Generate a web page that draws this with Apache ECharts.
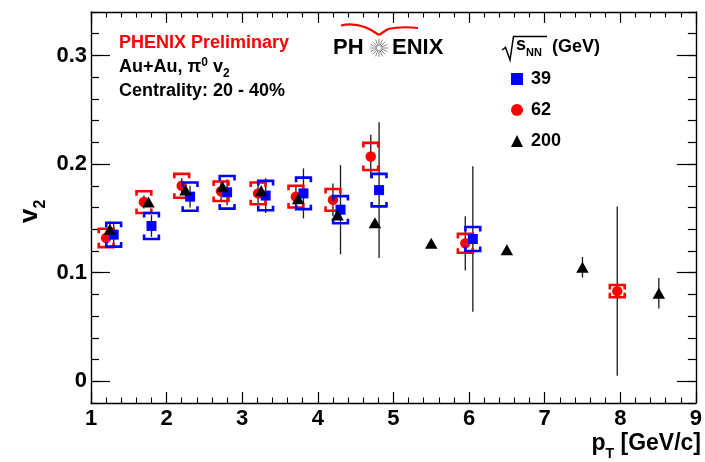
<!DOCTYPE html>
<html>
<head>
<meta charset="utf-8">
<script src="https://cdn.jsdelivr.net/npm/echarts@6/dist/echarts.min.js"></script>
<style>
html,body{margin:0;padding:0;background:#fff;}
#c{width:705px;height:462px;}
</style>
</head>
<body>
<div id="c"></div>
<script>
// pi0 v2 vs pT in Au+Au, 20-40% centrality, three beam energies
// 39 GeV
const pt39   = [1.30, 1.80, 2.31, 2.80, 3.31, 3.81, 4.30, 4.81, 6.05];
const v2_39  = [0.135, 0.143, 0.170, 0.174, 0.171, 0.173, 0.158, 0.176, 0.131];
const stat39 = [0.010, 0.010, 0.010, 0.012, 0.016, 0.023, 0.041, 0.0625, 0.067];
const sys39  = [0.011, 0.012, 0.013, 0.015, 0.0135, 0.0145, 0.0125, 0.015, 0.011];
// 62 GeV
const pt62   = [1.20, 1.70, 2.20, 2.72, 3.21, 3.71, 4.20, 4.70, 5.95, 7.96];
const v2_62  = [0.132, 0.165, 0.180, 0.175, 0.173, 0.170, 0.167, 0.207, 0.127, 0.083];
const stat62 = [0.006, 0.006, 0.007, 0.008, 0.009, 0.011, 0.015, 0.020, 0.025, 0.078];
const sys62  = [0.0085, 0.010, 0.011, 0.009, 0.010, 0.010, 0.010, 0.0125, 0.0087, 0.0056];
// 200 GeV
const pt200   = [1.25, 1.76, 2.25, 2.74, 3.25, 3.74, 4.26, 4.755, 5.50, 6.50, 7.50, 8.51];
const v2_200  = [0.140, 0.165, 0.176, 0.179, 0.1755, 0.168, 0.153, 0.146, 0.127, 0.121, 0.105, 0.081];
const stat200 = [0.007, 0.003, 0.003, 0.003, 0.003, 0.003, 0.003, 0.003, 0.003, 0.003, 0.0095, 0.014];

const yMajor = [0, 0.1, 0.2, 0.3];

const RED = '#ff0000', BLUE = '#0000ff', BLACK = '#000000';
const FONT = '"Liberation Sans", Arial, Helvetica, sans-serif';

const mctx = document.createElement('canvas').getContext('2d');
function tw(t, size) { mctx.font = 'bold ' + size + 'px ' + FONT; return mctx.measureText(t).width; }

// lay out a line of text runs (for sub/superscripts) starting at a baseline
function textLine(x, base, parts, color, align) {
  const total = parts.reduce((s, p) => s + tw(p.t, p.size), 0);
  let cx = align === 'right' ? x - total : x;
  return parts.map(p => {
    const el = {
      type: 'text', x: cx, y: base + (p.dy || 0) - 0.35 * p.size, silent: true,
      style: { text: p.t, fontSize: p.size, fontWeight: 'bold', fontFamily: FONT,
               fill: p.color || color, align: 'left', verticalAlign: 'middle' }
    };
    cx += tw(p.t, p.size);
    return el;
  });
}

const band = (pt, v, e) => pt.map((x, i) => [x, v[i] - e[i], v[i] + e[i]]);
const pts = (pt, v) => pt.map((x, i) => [x, v[i]]);

function statItem(params, api) {
  const a = api.coord([api.value(0), api.value(1)]);
  const b = api.coord([api.value(0), api.value(2)]);
  return { type: 'line', shape: { x1: a[0], y1: a[1], x2: b[0], y2: b[1] },
           style: { stroke: '#1a1a1a', lineWidth: 1.3 } };
}
function bracketItem(color) {
  return function (params, api) {
    const lo = api.coord([api.value(0), api.value(1)]);
    const hi = api.coord([api.value(0), api.value(2)]);
    const cx = lo[0], hw = 7.4, tk = 4.5;
    const st = { stroke: color, lineWidth: 2.6, fill: 'none', lineJoin: 'miter' };
    return { type: 'group', children: [
      { type: 'polyline', shape: { points: [[cx - hw, hi[1] + tk], [cx - hw, hi[1]], [cx + hw, hi[1]], [cx + hw, hi[1] + tk]] }, style: st },
      { type: 'polyline', shape: { points: [[cx - hw, lo[1] - tk], [cx - hw, lo[1]], [cx + hw, lo[1]], [cx + hw, lo[1] - tk]] }, style: st }
    ] };
  };
}

const xRange = { min: 1, max: 9, interval: 1 };
const yRange = { min: -0.02, max: 0.34 };
const frameLine = { show: true, onZero: false, lineStyle: { color: '#000', width: 1.4 } };
const noLine = { show: false, onZero: false };

// PHENIX logo: swoosh + starburst
const star = [];
for (let k = 0; k < 16; k++) {
  const a = k * Math.PI / 8;
  star.push({ type: 'line', silent: true,
    shape: { x1: 379 + 2 * Math.cos(a), y1: 48 + 2 * Math.sin(a), x2: 379 + 9 * Math.cos(a), y2: 48 + 9 * Math.sin(a) },
    style: { stroke: '#8a8a8a', lineWidth: 1 } });
}
const swoosh = [
  { type: 'bezierCurve', silent: true,
    shape: { x1: 341, y1: 25.5, cpx1: 360, cpy1: 21, x2: 379, y2: 35 },
    style: { stroke: RED, lineWidth: 2.2, fill: 'none' } },
  { type: 'line', silent: true,
    shape: { x1: 379, y1: 35, x2: 388, y2: 29 },
    style: { stroke: RED, lineWidth: 2.2 } },
  { type: 'bezierCurve', silent: true,
    shape: { x1: 388, y1: 29, cpx1: 401, cpy1: 26, x2: 418, y2: 28 },
    style: { stroke: RED, lineWidth: 2.0, fill: 'none' } }
];

const graphics = [].concat(
  textLine(119, 49.5, [{ t: 'PHENIX Preliminary', size: 18 }], RED),
  textLine(119, 73.5, [{ t: 'Au+Au, \u03c0', size: 18 }, { t: '0', size: 12, dy: -7 }, { t: ' v', size: 18 }, { t: '2', size: 12, dy: 4 }], BLACK),
  textLine(119, 97.5, [{ t: 'Centrality: 20 - 40%', size: 18 }], BLACK),
  textLine(333, 56, [{ t: 'PH', size: 22 }], BLACK),
  textLine(392, 56, [{ t: 'ENIX', size: 22 }], BLACK),
  star,
  swoosh,
  // sqrt(s_NN) legend header
  [{ type: 'polyline', silent: true,
     shape: { points: [[502, 50], [505.5, 47.5], [510, 60], [513.5, 36.5], [547, 36.5]] },
     style: { stroke: BLACK, lineWidth: 1.5, fill: 'none' } }],
  textLine(516, 51, [{ t: 's', size: 18 }, { t: 'NN', size: 11, dy: 6 }], BLACK),
  textLine(552, 53, [{ t: '(GeV)', size: 18 }], BLACK),
  // x axis title
  textLine(701, 452, [{ t: 'p', size: 23 }, { t: 'T', size: 14, dy: 7 }, { t: ' [GeV/c]', size: 23 }], BLACK, 'right'),
  // y axis title, rotated
  [{ type: 'group', x: 39, y: 223, rotation: Math.PI / 2, silent: true,
     children: textLine(0, 0, [{ t: 'v', size: 26 }, { t: '2', size: 16, dy: 7 }], BLACK) }]
);

const chart = echarts.init(document.getElementById('c'), null, { renderer: 'canvas' });
chart.setOption({
  animation: false,
  backgroundColor: '#fff',
  grid: { left: 91, right: 4, top: 12, bottom: 59, containLabel: false },
  xAxis: [
    Object.assign({ type: 'value', position: 'bottom',
      axisLine: frameLine,
      axisTick: { show: true, inside: true, length: 11, lineStyle: { color: '#000', width: 1.2 } },
      minorTick: { show: true, splitNumber: 5, length: 5.5, lineStyle: { color: '#000', width: 1.1 } },
      axisLabel: { show: true, margin: 5, color: '#000', fontSize: 22, fontWeight: 'bold', fontFamily: FONT,
                   formatter: v => String(Math.round(v)) },
      splitLine: { show: false } }, xRange),
    Object.assign({ type: 'value', position: 'top',
      axisLine: frameLine,
      axisTick: { show: true, inside: true, length: 11, lineStyle: { color: '#000', width: 1.2 } },
      minorTick: { show: true, splitNumber: 5, length: 5.5, lineStyle: { color: '#000', width: 1.1 } },
      axisLabel: { show: false }, splitLine: { show: false } }, xRange)
  ],
  yAxis: [
    Object.assign({ type: 'value', position: 'left', interval: 0.02,
      axisLine: frameLine,
      axisTick: { show: true, inside: true, length: 8, lineStyle: { color: '#000', width: 1.2 } },
      axisLabel: { show: true, margin: 4, color: '#000', fontSize: 22, fontWeight: 'bold', fontFamily: FONT,
                   customValues: yMajor, formatter: v => (Math.abs(v) < 1e-9 ? '0' : v.toFixed(1)) },
      splitLine: { show: false } }, yRange),
    Object.assign({ type: 'value', position: 'left',
      axisLine: noLine,
      axisTick: { show: true, inside: true, length: 19, customValues: yMajor, lineStyle: { color: '#000', width: 1.2 } },
      axisLabel: { show: false }, splitLine: { show: false } }, yRange),
    Object.assign({ type: 'value', position: 'right', interval: 0.02,
      axisLine: frameLine,
      axisTick: { show: true, inside: true, length: 8, lineStyle: { color: '#000', width: 1.2 } },
      axisLabel: { show: false }, splitLine: { show: false } }, yRange),
    Object.assign({ type: 'value', position: 'right',
      axisLine: noLine,
      axisTick: { show: true, inside: true, length: 19, customValues: yMajor, lineStyle: { color: '#000', width: 1.2 } },
      axisLabel: { show: false }, splitLine: { show: false } }, yRange)
  ],
  legend: {
    orient: 'vertical', left: 511, top: 69, padding: 0, itemWidth: 12, itemHeight: 12, itemGap: 11,
    selectedMode: false,
    textStyle: { color: '#000', fontSize: 18, fontWeight: 'bold', fontFamily: FONT, lineHeight: 20, padding: [0, 0, 0, 3] },
    data: [{ name: '39', icon: 'rect' }, { name: '62', icon: 'circle' }, { name: '200', icon: 'triangle' }]
  },
  graphic: graphics,
  series: [
    { type: 'custom', name: 'stat39', renderItem: statItem, data: band(pt39, v2_39, stat39), silent: true, z: 2 },
    { type: 'custom', name: 'stat62', renderItem: statItem, data: band(pt62, v2_62, stat62), silent: true, z: 2 },
    { type: 'custom', name: 'stat200', renderItem: statItem, data: band(pt200, v2_200, stat200), silent: true, z: 2 },
    { type: 'custom', name: 'sys62', renderItem: bracketItem(RED), data: band(pt62, v2_62, sys62), silent: true, z: 3 },
    { type: 'scatter', name: '62', symbol: 'circle', symbolSize: 10.5, itemStyle: { color: RED, opacity: 1 },
      data: pts(pt62, v2_62), silent: true, z: 4 },
    { type: 'custom', name: 'sys39', renderItem: bracketItem(BLUE), data: band(pt39, v2_39, sys39), silent: true, z: 5 },
    { type: 'scatter', name: '39', symbol: 'rect', symbolSize: 10, itemStyle: { color: BLUE, opacity: 1 },
      data: pts(pt39, v2_39), silent: true, z: 6 },
    { type: 'scatter', name: '200', symbol: 'triangle', symbolSize: [12.5, 11], itemStyle: { color: BLACK, opacity: 1 },
      data: pts(pt200, v2_200), silent: true, z: 7 }
  ]
});
</script>
</body>
</html>
